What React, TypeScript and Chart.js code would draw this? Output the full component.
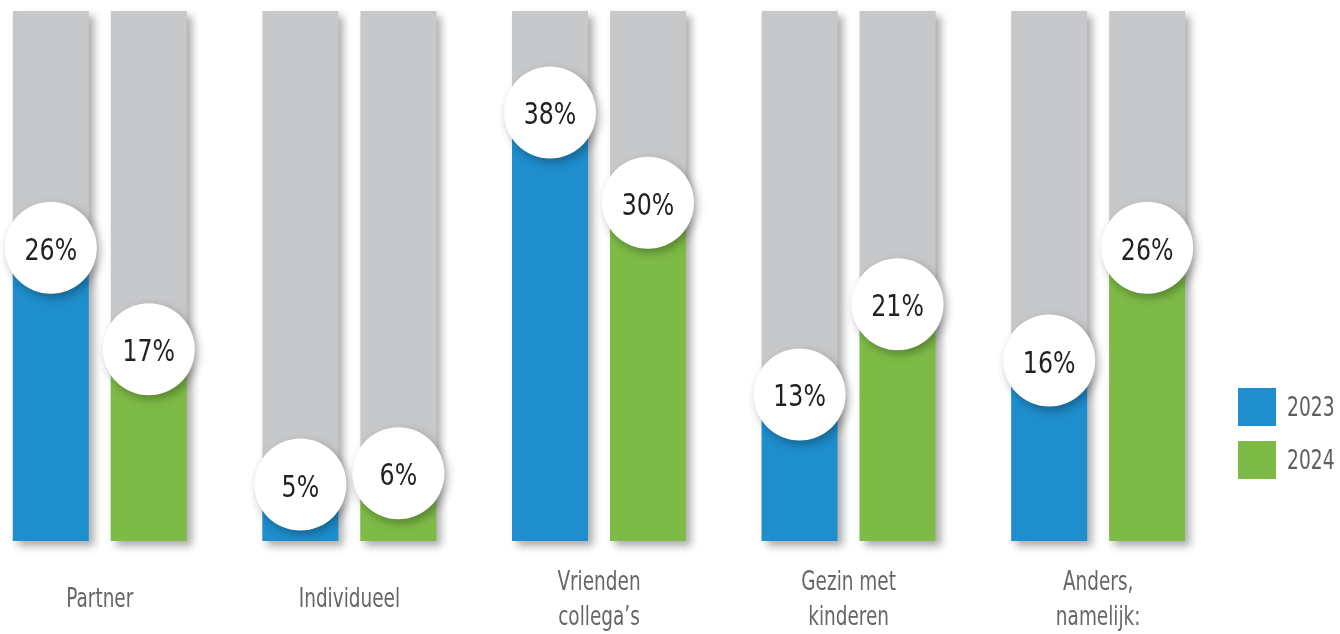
import React, { useEffect, useRef } from "react";
import { Chart, registerables } from "chart.js";

Chart.register(...registerables);

const categories: (string | string[])[] = [
  "Partner",
  "Individueel",
  ["Vrienden", "collega’s"],
  ["Gezin met", "kinderen"],
  ["Anders,", "namelijk:"],
];
const seriesNames = ["2023", "2024"];
const values2023 = [26, 5, 38, 13, 16];
const values2024 = [17, 6, 30, 21, 26];
const seriesColors = ["#1e8ecd", "#7dbb46"];
const trackColor = "#c7c8ca";
const scaleMax = 47;

const labelFont = "'DejaVu Sans Condensed', 'DejaVu Sans', sans-serif";
const valueFont = "'DejaVu Sans Condensed', 'DejaVu Sans', sans-serif";

// draw text horizontally compressed to mimic a narrow typeface
function narrowText(ctx: CanvasRenderingContext2D, text: string, x: number, y: number, squeeze: number, align: "left" | "center") {
  ctx.save();
  ctx.translate(x, y);
  ctx.scale(squeeze, 1);
  ctx.textAlign = align;
  ctx.fillText(text, 0, 0);
  ctx.restore();
}

const trackPlugin = {
  id: "track",
  beforeDatasetsDraw(chart: any) {
    const { ctx, chartArea } = chart;
    ctx.save();
    ctx.fillStyle = trackColor;
    ctx.shadowColor = "rgba(0,0,0,0.33)";
    ctx.shadowBlur = 8;
    ctx.shadowOffsetX = 5;
    ctx.shadowOffsetY = 5;
    chart.data.datasets.forEach((_ds: any, i: number) => {
      chart.getDatasetMeta(i).data.forEach((bar: any) => {
        const { x, width, base } = bar.getProps(["x", "width", "base"], true);
        ctx.fillRect(x - width / 2, chartArea.top, width, base - chartArea.top);
      });
    });
    ctx.restore();
  },
};

const bubblePlugin = {
  id: "bubbles",
  afterDatasetsDraw(chart: any) {
    const { ctx } = chart;
    chart.data.datasets.forEach((ds: any, i: number) => {
      chart.getDatasetMeta(i).data.forEach((bar: any, j: number) => {
        const { x, y } = bar.getProps(["x", "y"], true);
        ctx.save();
        ctx.shadowColor = "rgba(0,0,0,0.3)";
        ctx.shadowBlur = 10;
        ctx.shadowOffsetX = 3;
        ctx.shadowOffsetY = 4;
        ctx.beginPath();
        ctx.arc(x, y, 46, 0, Math.PI * 2);
        ctx.fillStyle = "#ffffff";
        ctx.fill();
        ctx.restore();
        ctx.save();
        ctx.fillStyle = "#231f20";
        ctx.font = `31px ${valueFont}`;
        ctx.textBaseline = "alphabetic";
        narrowText(ctx, `${ds.data[j]}%`, x, y + 12, 0.85, "center");
        ctx.restore();
      });
    });
  },
};

const categoryLabelPlugin = {
  id: "categoryLabels",
  afterDraw(chart: any) {
    const { ctx } = chart;
    const scale = chart.scales.x;
    const lineGap = 35;
    ctx.save();
    ctx.fillStyle = "#666666";
    ctx.font = `27px ${labelFont}`;
    ctx.textBaseline = "alphabetic";
    chart.data.labels.forEach((label: string | string[], i: number) => {
      const x = scale.getPixelForTick(i);
      const lines = Array.isArray(label) ? label : [label];
      const firstBaseline = 607 - ((lines.length - 1) * lineGap) / 2;
      lines.forEach((line, k) => {
        narrowText(ctx, line, x, firstBaseline + k * lineGap, 0.76, "center");
      });
    });
    ctx.restore();
  },
};

const legendPlugin = {
  id: "sideLegend",
  afterDraw(chart: any) {
    const { ctx } = chart;
    const left = 1263;
    const top0 = 388;
    const size = 38;
    const step = 53;
    ctx.save();
    chart.data.datasets.forEach((ds: any, i: number) => {
      const top = top0 + i * step;
      ctx.fillStyle = ds.backgroundColor;
      ctx.fillRect(left, top, size, size);
      ctx.fillStyle = "#5e5e5e";
      ctx.font = `26px ${labelFont}`;
      ctx.textBaseline = "alphabetic";
      narrowText(ctx, ds.label, left + size + 11, top + 28, 0.8, "left");
    });
    ctx.restore();
  },
};

export default function App() {
  const canvasRef = useRef<HTMLCanvasElement | null>(null);

  useEffect(() => {
    document.body.style.overflow = "hidden";
    const canvas = canvasRef.current;
    if (!canvas) return;
    const chart = new Chart(canvas, {
      type: "bar",
      data: {
        labels: categories,
        datasets: [
          {
            label: seriesNames[0],
            data: values2023,
            backgroundColor: seriesColors[0],
            borderWidth: 0,
            categoryPercentage: 0.785,
            barPercentage: 0.7755,
          },
          {
            label: seriesNames[1],
            data: values2024,
            backgroundColor: seriesColors[1],
            borderWidth: 0,
            categoryPercentage: 0.785,
            barPercentage: 0.7755,
          },
        ],
      },
      options: {
        responsive: true,
        maintainAspectRatio: false,
        animation: false,
        layout: { padding: { top: 11, right: 117, left: 0, bottom: 0 } },
        plugins: {
          legend: { display: false },
          tooltip: { enabled: false },
        },
        scales: {
          x: {
            grid: { display: false, drawTicks: false },
            border: { display: false },
            ticks: { display: false, autoSkip: false },
            afterFit: (scale: any) => {
              scale.height = 93;
            },
          },
          y: { display: false, min: 0, max: scaleMax },
        },
      },
      plugins: [trackPlugin, bubblePlugin, categoryLabelPlugin, legendPlugin],
    } as any);
    return () => chart.destroy();
  }, []);

  return (
    <div style={{ position: "absolute", left: -25, top: 0, width: 1365, height: 634 }}>
      <canvas ref={canvasRef} />
    </div>
  );
}
